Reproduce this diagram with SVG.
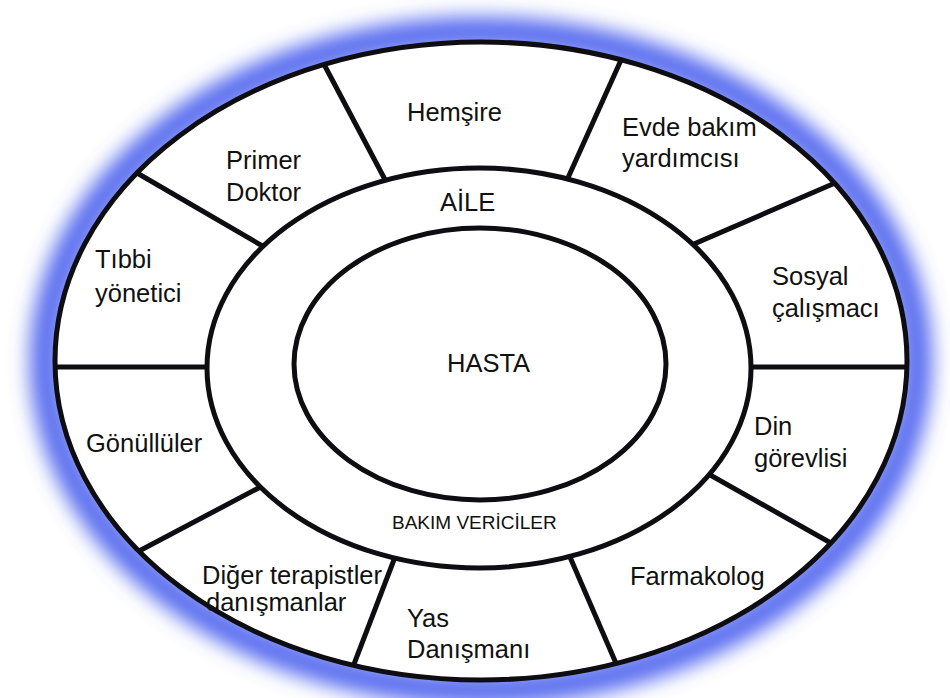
<svg xmlns="http://www.w3.org/2000/svg" width="950" height="698" viewBox="0 0 950 698">
<defs>
<filter id="glow" x="-20%" y="-20%" width="140%" height="140%"><feGaussianBlur stdDeviation="10"/></filter>
<clipPath id="outerClip"><ellipse cx="481" cy="361" rx="426" ry="319"/></clipPath>
<style>
text{font-family:"Liberation Sans",Arial,sans-serif;font-size:25.5px;fill:#111}
.small{font-size:19px}
.ring{fill:#fff;stroke:#0d0d12;stroke-width:5}
.spoke{stroke:#0d0d12;stroke-width:5;stroke-linecap:butt}
</style>
</defs>
<rect width="950" height="698" fill="#fff"/>
<g id="glow-ring">
<ellipse cx="481" cy="361" rx="436" ry="329" fill="none" stroke="#4e62ee" stroke-width="30" stroke-opacity="0.95" filter="url(#glow)"/>
</g>
<g id="outer-ring">
<ellipse class="ring" cx="481" cy="361" rx="426" ry="319"/>
</g>
<g id="connectors" clip-path="url(#outerClip)">
<line class="spoke" x1="408" y1="223" x2="318" y2="53"/>
<line class="spoke" x1="558" y1="200" x2="626" y2="49"/>
<line class="spoke" x1="643" y1="266" x2="842" y2="180"/>
<line class="spoke" x1="720" y1="367" x2="915" y2="367"/>
<line class="spoke" x1="650" y1="441" x2="845" y2="551"/>
<line class="spoke" x1="560" y1="534" x2="625" y2="684"/>
<line class="spoke" x1="405" y1="531" x2="346" y2="685"/>
<line class="spoke" x1="300" y1="466" x2="124" y2="559"/>
<line class="spoke" x1="245" y1="367" x2="45" y2="367"/>
<line class="spoke" x1="290" y1="262" x2="125" y2="166"/>
</g>
<g id="aile-ring">
<ellipse class="ring" cx="479" cy="368" rx="272" ry="200"/>
</g>
<g id="hasta">
<ellipse class="ring" cx="480" cy="364" rx="186" ry="136"/>
<text x="447" y="372">HASTA</text>
</g>
<g id="aile"><text x="440" y="211">AİLE</text></g>
<g id="bakim-vericiler"><text class="small" x="392" y="529">BAKIM VERİCİLER</text></g>
<g id="hemsire"><text x="407" y="121">Hemşire</text></g>
<g id="evde-bakim"><text x="622" y="136">Evde bakım</text><text x="622" y="167">yardımcısı</text></g>
<g id="sosyal"><text x="772" y="285">Sosyal</text><text x="772" y="317">çalışmacı</text></g>
<g id="din"><text x="754" y="435">Din</text><text x="754" y="467">görevlisi</text></g>
<g id="farmakolog"><text x="630" y="585">Farmakolog</text></g>
<g id="yas"><text x="407" y="627">Yas</text><text x="407" y="658">Danışmanı</text></g>
<g id="diger"><text x="202" y="584">Diğer terapistler</text><text x="206" y="611">danışmanlar</text></g>
<g id="gonulluler"><text x="86" y="452">Gönüllüler</text></g>
<g id="tibbi"><text x="95" y="268">Tıbbi</text><text x="95" y="302">yönetici</text></g>
<g id="primer"><text x="226" y="169">Primer</text><text x="226" y="201">Doktor</text></g>
</svg>
